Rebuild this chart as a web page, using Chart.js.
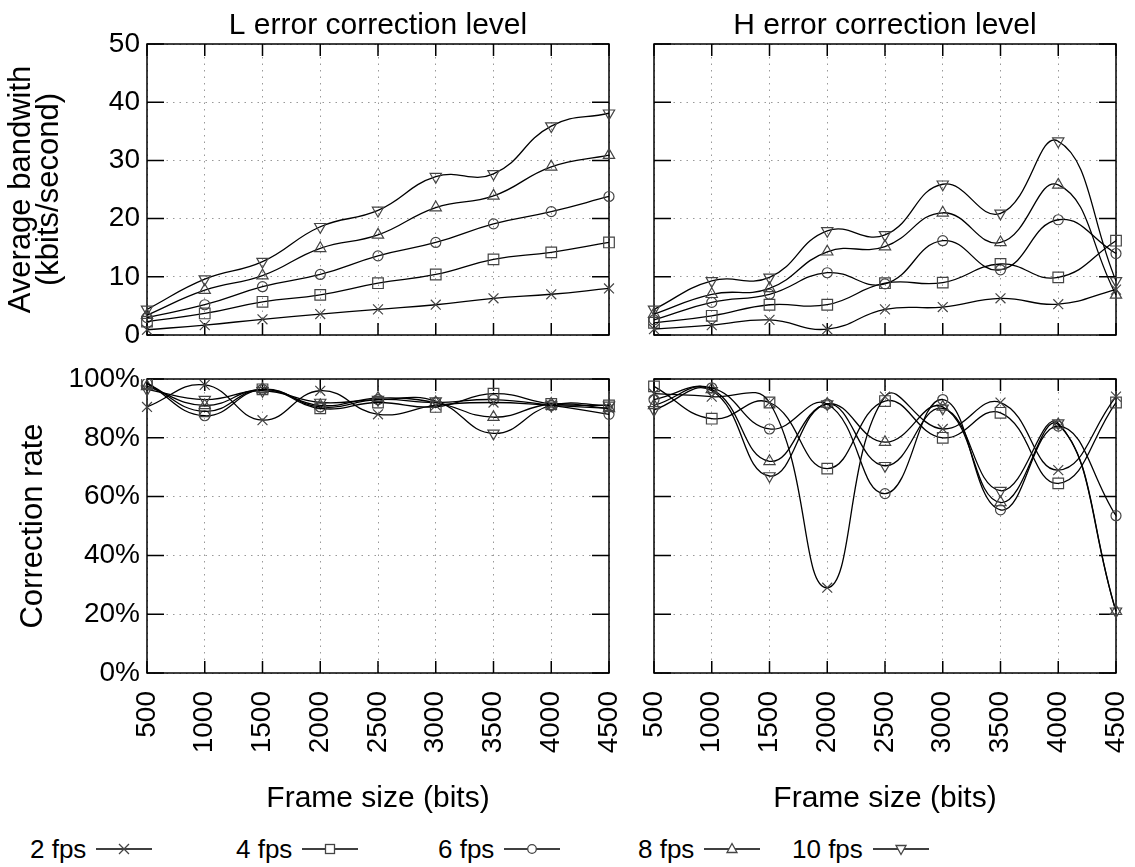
<!DOCTYPE html>
<html>
<head>
<meta charset="utf-8">
<script src="https://cdn.jsdelivr.net/npm/chart.js@4.4.1/dist/chart.umd.min.js"></script>
<style>
body{margin:0;background:#fff;width:1135px;height:867px;position:relative;overflow:hidden;font-family:"Liberation Sans",Arial,sans-serif}
.box{position:absolute}
.item{position:absolute;top:834px;height:30px;display:flex;align-items:center;font-size:26px;color:#000}
.item svg{margin-left:10px}
</style>
</head>
<body>
<div class="box" style="left:0;top:0;width:623px;height:352px"><canvas id="bwL"></canvas></div>
<div class="box" style="left:640px;top:0;width:495px;height:352px"><canvas id="bwH"></canvas></div>
<div class="box" style="left:0;top:359px;width:623px;height:458px"><canvas id="crL"></canvas></div>
<div class="box" style="left:640px;top:359px;width:495px;height:458px"><canvas id="crH"></canvas></div>
<div id="legend"></div>
<script>
const frameSizes = ['500', '1000', '1500', '2000', '2500', '3000', '3500', '4000', '4500']
const fpsNames = ['2 fps', '4 fps', '6 fps', '8 fps', '10 fps']

// average bandwidth, L level
const bwL2 = [0.9, 1.7, 2.7, 3.6, 4.4, 5.2, 6.3, 7.0, 8.0]
const bwL4 = [2.3, 3.7, 5.7, 6.9, 8.9, 10.4, 13.0, 14.2, 15.9]
const bwL6 = [3.0, 5.2, 8.3, 10.4, 13.6, 15.9, 19.1, 21.2, 23.8]
const bwL8 = [3.4, 7.7, 10.2, 14.9, 17.2, 21.9, 23.9, 28.9, 30.9]
const bwL10 = [4.4, 9.6, 12.6, 18.6, 21.4, 27.2, 27.7, 35.9, 38.1]

// average bandwidth, H level
const bwH2 = [1.0, 1.7, 2.6, 1.0, 4.4, 4.8, 6.3, 5.3, 7.8]
const bwH4 = [2.1, 3.3, 5.2, 5.2, 8.9, 9.0, 12.2, 9.9, 16.2]
const bwH6 = [2.6, 5.6, 7.0, 10.7, 8.8, 16.2, 11.2, 19.8, 14.0]
const bwH8 = [3.6, 7.0, 8.0, 14.3, 15.2, 21.0, 15.9, 25.8, 6.9]
const bwH10 = [4.4, 9.3, 9.9, 17.9, 17.2, 25.9, 20.9, 33.3, 9.3]

// correction rate (%), L level
const crL2 = [90.5, 98, 86, 96, 88, 91, 92, 91, 90]
const crL4 = [98.5, 89, 96.5, 90, 92, 90.5, 95, 91.5, 91]
const crL6 = [98.5, 87.5, 96.5, 90.5, 93, 92, 93, 91, 88]
const crL8 = [97.5, 91, 96.5, 91, 93.5, 92, 87, 91.5, 90]
const crL10 = [96.5, 93, 96, 92, 93, 92.5, 81.5, 91, 91]

// correction rate (%), H level
const crH2 = [95, 94, 92, 29, 94, 83, 92, 69, 94]
const crH4 = [97.5, 86.5, 92, 69.5, 92.5, 80, 88.5, 64.5, 92]
const crH6 = [93, 97, 83, 91.5, 61, 93, 55.5, 84, 53.5]
const crH8 = [91, 96.5, 72, 91.5, 78.5, 90.5, 58, 84.5, 21]
const crH10 = [89.5, 96, 67, 91.5, 70.5, 90, 62, 85, 21]

const bwTicks = [0, 10, 20, 30, 40, 50]
const crTicks = [0, 20, 40, 60, 80, 100]

const markers = [
    {pointStyle: 'crossRot', radius: 7, rotation: 0},
    {pointStyle: 'rect', radius: 7.5, rotation: 0},
    {pointStyle: 'circle', radius: 5, rotation: 0},
    {pointStyle: 'triangle', radius: 6.5, rotation: 0},
    {pointStyle: 'triangle', radius: 6.5, rotation: 180}
]
const fam = '"Liberation Sans", Arial, sans-serif'
const fnt = {family: fam, size: 28}

// gnuplot style border with inward ticks on all four sides
const frame = {
    id: 'frame',
    beforeDatasetsDraw(chart) {
        const {ctx, chartArea: a, scales} = chart
        ctx.save()
        ctx.strokeStyle = '#000'
        ctx.lineWidth = 1.5
        ctx.beginPath()
        scales.x.ticks.forEach((t, i) => {
            const px = scales.x.getPixelForTick(i)
            ctx.moveTo(px, a.top); ctx.lineTo(px, a.top + 12)
            ctx.moveTo(px, a.bottom); ctx.lineTo(px, a.bottom - 12)
        })
        scales.y.ticks.forEach((t, i) => {
            const py = scales.y.getPixelForTick(i)
            ctx.moveTo(a.left, py); ctx.lineTo(a.left + 17, py)
            ctx.moveTo(a.right, py); ctx.lineTo(a.right - 17, py)
        })
        ctx.stroke()
        ctx.strokeRect(a.left, a.top, a.width, a.height)
        ctx.restore()
    }
}

function noPad(s) {
    s.paddingLeft = 0
    s.paddingRight = 0
    s.paddingTop = 0
    s.paddingBottom = 0
}

function makeChart(id, series, cfg) {
    const datasets = series.map((vals, i) => ({
        label: fpsNames[i],
        data: vals,
        borderColor: '#000',
        borderWidth: 1.3,
        tension: 0.45,
        fill: false,
        pointStyle: markers[i].pointStyle,
        pointRadius: markers[i].radius,
        pointRotation: markers[i].rotation,
        pointBorderColor: '#444',
        pointBorderWidth: 1.2,
        pointBackgroundColor: 'rgba(0,0,0,0)'
    }))
    return new Chart(document.getElementById(id), {
        type: 'line',
        data: {labels: frameSizes, datasets: datasets},
        options: {
            responsive: true,
            maintainAspectRatio: false,
            animation: false,
            layout: {padding: cfg.padding},
            plugins: {
                legend: {display: false},
                tooltip: {enabled: false},
                title: {
                    display: !!cfg.title,
                    text: cfg.title,
                    fullSize: false,
                    color: '#000',
                    font: {family: fam, size: 30, weight: 'normal', lineHeight: 1.2},
                    padding: {top: 8, bottom: 0}
                }
            },
            scales: {
                x: {
                    offset: false,
                    grid: {color: '#999', drawTicks: false, offset: false},
                    border: {display: false, dash: [1.5, 5]},
                    ticks: {
                        display: cfg.xLabels,
                        autoSkip: false,
                        minRotation: 90,
                        maxRotation: 90,
                        padding: 18,
                        color: '#000',
                        font: fnt
                    },
                    title: {
                        display: cfg.xLabels,
                        text: 'Frame size (bits)',
                        color: '#000',
                        font: {family: fam, size: 30, lineHeight: 1.2},
                        padding: 0
                    },
                    afterFit: s => { s.height = cfg.xHeight; noPad(s) }
                },
                y: {
                    min: cfg.ticks[0],
                    max: cfg.ticks[cfg.ticks.length - 1],
                    afterBuildTicks: s => { s.ticks = cfg.ticks.map(v => ({value: v})) },
                    grid: {color: '#999', drawTicks: false},
                    border: {display: false, dash: [1.5, 5]},
                    ticks: {
                        display: !!cfg.yTitle,
                        padding: 7,
                        color: '#000',
                        font: fnt,
                        callback: cfg.fmt
                    },
                    title: {
                        display: !!cfg.yTitle,
                        text: cfg.yTitle,
                        color: '#000',
                        font: {family: fam, size: 31, lineHeight: 0.9},
                        padding: {top: cfg.yTitlePad, bottom: 0}
                    },
                    afterFit: s => { s.width = cfg.yWidth; noPad(s) }
                }
            }
        },
        plugins: [frame]
    })
}

const num = v => v
const pct = v => v + '%'

makeChart('bwL', [bwL2, bwL4, bwL6, bwL8, bwL10], {
    title: 'L error correction level', yTitle: ['Average bandwith', '(kbits/second)'], yTitlePad: 8,
    ticks: bwTicks, fmt: num, xLabels: false, xHeight: 17, yWidth: 147,
    padding: {top: 0, right: 14, bottom: 0, left: 0}
})
makeChart('bwH', [bwH2, bwH4, bwH6, bwH8, bwH10], {
    title: 'H error correction level', yTitle: '', yTitlePad: 0,
    ticks: bwTicks, fmt: num, xLabels: false, xHeight: 17, yWidth: 14,
    padding: {top: 0, right: 19, bottom: 0, left: 0}
})
makeChart('crL', [crL2, crL4, crL6, crL8, crL10], {
    title: '', yTitle: 'Correction rate', yTitlePad: 20,
    ticks: crTicks, fmt: pct, xLabels: true, xHeight: 144, yWidth: 147,
    padding: {top: 20, right: 14, bottom: 0, left: 0}
})
makeChart('crH', [crH2, crH4, crH6, crH8, crH10], {
    title: '', yTitle: '', yTitlePad: 0,
    ticks: crTicks, fmt: pct, xLabels: true, xHeight: 144, yWidth: 14,
    padding: {top: 20, right: 19, bottom: 0, left: 0}
})

// legend: label then line sample with marker
const legendLeft = [30, 236, 438, 638, 792]
const markSvg = [
    '<path d="M23 5 L33 15 M33 5 L23 15" stroke="#444" stroke-width="1.3"/>',
    '<rect x="23.5" y="5.5" width="9" height="9" fill="#fff" stroke="#444" stroke-width="1.3"/>',
    '<circle cx="28" cy="10" r="4.3" fill="#fff" stroke="#444" stroke-width="1.3"/>',
    '<path d="M28 4.5 L33 13.5 L23 13.5 Z" fill="#fff" stroke="#444" stroke-width="1.3"/>',
    '<path d="M28 15.5 L33 6.5 L23 6.5 Z" fill="#fff" stroke="#444" stroke-width="1.3"/>'
]
const legend = document.getElementById('legend')
fpsNames.forEach((name, i) => {
    const d = document.createElement('div')
    d.className = 'item'
    d.style.left = legendLeft[i] + 'px'
    d.innerHTML = '<span>' + name + '</span><svg width="56" height="20"><line x1="0" y1="10" x2="56" y2="10" stroke="#000" stroke-width="1.3"/>' + markSvg[i] + '</svg>'
    legend.appendChild(d)
})
</script>
</body>
</html>
